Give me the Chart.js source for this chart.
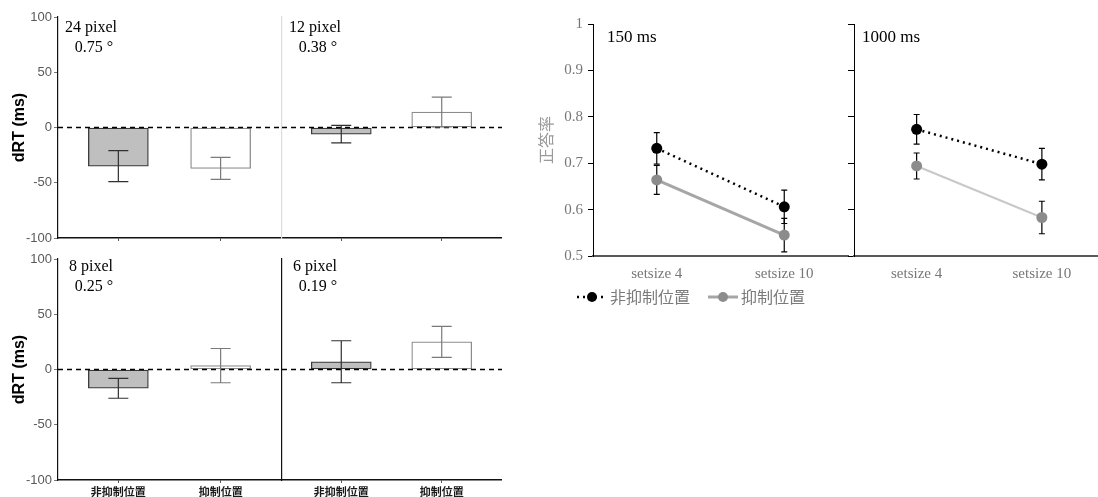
<!DOCTYPE html>
<html><head><meta charset="utf-8">
<script src="https://cdn.jsdelivr.net/npm/chart.js@4.4.1/dist/chart.umd.min.js"></script>
<style>
html,body{margin:0;padding:0;background:#fff;overflow:hidden;width:1098px;height:497px;}
canvas{position:absolute;}
</style></head><body>
<canvas id="p24" width="282" height="248" style="left:0;top:0"></canvas>
<canvas id="p12" width="225" height="245" style="left:277px;top:0"></canvas>
<canvas id="p8" width="282" height="252" style="left:0;top:245px"></canvas>
<canvas id="p6" width="225" height="252" style="left:277px;top:245px"></canvas>
<canvas id="a150" width="340" height="320" style="left:520px;top:0"></canvas>
<canvas id="a1000" width="262" height="320" style="left:848px;top:0"></canvas>
<script>
// ---------- data ----------
const barCategories = ['非抑制位置', '抑制位置'];
const pixelLabels = ['24 pixel', '12 pixel', '8 pixel', '6 pixel'];
const degreeLabels = ['0.75 °', '0.38 °', '0.25 °', '0.19 °'];
const dRTNonSuppressed = [-35, -6, -17, 7];
const dRTNonSuppressedErr = [14, 8, 9, 19];
const dRTSuppressed = [-37, 14, 3.5, 25];
const dRTSuppressedErr = [10, 13.5, 15.5, 14];
const dRTTicks = [-100, -50, 0, 50, 100];

const setsizes = ['setsize 4', 'setsize 10'];
const durations = ['150 ms', '1000 ms'];
const seriesNames = ['非抑制位置', '抑制位置'];
const acc150NonSuppressed = [0.732, 0.606];
const acc150NonSuppressedErr = [0.034, 0.036];
const acc150Suppressed = [0.664, 0.545];
const acc150SuppressedErr = [0.031, 0.036];
const acc1000NonSuppressed = [0.773, 0.698];
const acc1000NonSuppressedErr = [0.032, 0.034];
const acc1000Suppressed = [0.694, 0.583];
const acc1000SuppressedErr = [0.028, 0.035];
const accTicks = [0.5, 0.6, 0.7, 0.8, 0.9, 1];

// ---------- styles ----------
const SANS = "'Liberation Sans', Arial, sans-serif";
const SERIF = "'Liberation Serif', 'Times New Roman', serif";
const CJK = "'Noto Sans CJK JP', 'Noto Sans CJK SC', sans-serif";

const barDecor = {
  id: 'barDecor',
  afterDatasetsDraw(chart, args, o) {
    const {ctx, chartArea: a, scales: {x, y}} = chart;
    ctx.save();
    const y0 = y.getPixelForValue(0);
    ctx.strokeStyle = '#000'; ctx.lineWidth = 1.5; ctx.setLineDash([5, 4]);
    ctx.beginPath(); ctx.moveTo(a.left, y0); ctx.lineTo(a.right, y0); ctx.stroke();
    ctx.setLineDash([]);
    const ds = chart.data.datasets[0];
    ds.data.forEach((pt, i) => {
      const e = ds.errors[i];
      const px = x.getPixelForValue(pt.x);
      const t = y.getPixelForValue(pt.y + e), b = y.getPixelForValue(pt.y - e);
      ctx.strokeStyle = ds.errorColors[i]; ctx.lineWidth = 1.2;
      ctx.beginPath();
      ctx.moveTo(px, t); ctx.lineTo(px, b);
      ctx.moveTo(px - 10, t); ctx.lineTo(px + 10, t);
      ctx.moveTo(px - 10, b); ctx.lineTo(px + 10, b);
      ctx.stroke();
    });
    ctx.fillStyle = '#000'; ctx.font = '16px ' + SERIF;
    ctx.textAlign = 'center'; ctx.textBaseline = 'alphabetic';
    ctx.fillText(o.line1, a.left + 33, a.top + o.dy + 15);
    ctx.fillText(o.line2, a.left + 36, a.top + o.dy + 35);
    ctx.restore();
  }
};

function barPanel(id, k, cfg) {
  new Chart(document.getElementById(id), {
    type: 'bar',
    data: { datasets: [{
      data: [{x: 0, y: dRTNonSuppressed[k]}, {x: 1, y: dRTSuppressed[k]}],
      errors: [dRTNonSuppressedErr[k], dRTSuppressedErr[k]],
      errorColors: ['#303030', '#7a7a7a'],
      backgroundColor: ['#bfbfbf', '#ffffff'],
      borderColor: ['#3a3a3a', '#8c8c8c'],
      borderWidth: 1.3, borderSkipped: false, barThickness: 60
    }]},
    options: {
      responsive: false, animation: false, events: [],
      layout: {padding: {top: cfg.top, right: 0, left: 0, bottom: 0}},
      plugins: {
        legend: {display: false}, tooltip: {enabled: false},
        barDecor: {line1: pixelLabels[k], line2: degreeLabels[k], dy: cfg.dy}
      },
      scales: {
        x: {
          type: 'linear', min: -0.59, max: 1.6, offset: false,
          afterBuildTicks: s => { s.ticks = barCategories.map((c, i) => ({value: i})); },
          afterFit: s => { s.height = cfg.xh; },
          ticks: {display: cfg.showX, callback: v => barCategories[v], padding: 2, maxRotation: 0, autoSkip: false,
                  color: '#1a1a1a', font: {family: CJK, size: 11, weight: 'bold'}},
          grid: {display: true, drawOnChartArea: false, drawTicks: true, tickLength: 3, offset: false, color: '#555'},
          border: {display: true, color: '#111', width: 1.5}
        },
        y: {
          min: -100, max: 100,
          afterBuildTicks: s => { s.ticks = dRTTicks.map(v => ({value: v})); },
          afterFit: s => { s.width = cfg.yw; },
          title: {display: cfg.showY, text: 'dRT (ms)', color: '#000',
                  font: {family: SANS, size: 16, weight: 'bold'}, padding: {top: 10, bottom: 0}},
          ticks: {display: cfg.showY, color: '#595959', padding: 2, font: {family: SANS, size: 13}},
          grid: {display: true, drawOnChartArea: false, drawTicks: cfg.showY, tickLength: 4, color: '#777'},
          border: {display: true, color: cfg.yColor, width: 1.2}
        }
      }
    },
    plugins: [barDecor]
  });
}

barPanel('p24', 0, {top: 17, xh: 10, yw: 58, showY: true, showX: false, yColor: '#111', dy: 0});
barPanel('p12', 1, {top: 17, xh: 7, yw: 5, showY: false, showX: false, yColor: '#dcdcdc', dy: 0});
barPanel('p8', 2, {top: 14, xh: 17, yw: 58, showY: true, showX: true, yColor: '#111', dy: -3});
barPanel('p6', 3, {top: 14, xh: 17, yw: 5, showY: false, showX: true, yColor: '#111', dy: -3});

const lineDecor = {
  id: 'lineDecor',
  beforeDatasetsDraw(chart) {
    const {ctx, scales: {y}} = chart;
    ctx.save();
    ctx.strokeStyle = '#000'; ctx.lineWidth = 1.2;
    chart.data.datasets.forEach((ds, di) => {
      const meta = chart.getDatasetMeta(di);
      ds.data.forEach((v, i) => {
        const px = meta.data[i].x;
        const t = y.getPixelForValue(v + ds.errors[i]), b = y.getPixelForValue(v - ds.errors[i]);
        ctx.beginPath();
        ctx.moveTo(px, t); ctx.lineTo(px, b);
        ctx.moveTo(px - 3, t); ctx.lineTo(px + 3, t);
        ctx.moveTo(px - 3, b); ctx.lineTo(px + 3, b);
        ctx.stroke();
      });
    });
    ctx.restore();
  },
  afterDraw(chart, args, o) {
    const {ctx, chartArea: a} = chart;
    ctx.save();
    ctx.fillStyle = '#000'; ctx.font = '17px ' + SERIF;
    ctx.textAlign = 'left'; ctx.textBaseline = 'alphabetic';
    ctx.fillText(o.title, a.left + o.tx, a.top + 18);
    if (o.legend) {
      let cx = o.lx; const cy = o.ly;
      ctx.font = '16px ' + CJK; ctx.textBaseline = 'middle';
      chart.data.datasets.forEach(ds => {
        ctx.strokeStyle = ds.borderColor; ctx.lineWidth = ds.borderWidth;
        ctx.setLineDash(ds.borderDash || []);
        ctx.beginPath(); ctx.moveTo(cx, cy); ctx.lineTo(cx + 30, cy); ctx.stroke();
        ctx.setLineDash([]);
        ctx.fillStyle = ds.pointBackgroundColor;
        ctx.beginPath(); ctx.arc(cx + 15, cy, 5, 0, Math.PI * 2); ctx.fill();
        ctx.fillStyle = '#7a7a7a';
        ctx.fillText(ds.label, cx + 33, cy);
        cx += 33 + ctx.measureText(ds.label).width + 18;
      });
    }
    ctx.restore();
  }
};

function linePanel(id, k, non, nonErr, sup, supErr, cfg) {
  new Chart(document.getElementById(id), {
    type: 'line',
    data: { labels: setsizes, datasets: [
      {label: seriesNames[0], data: non, errors: nonErr, borderColor: '#000', borderWidth: 2.5, borderDash: [2, 4],
       pointRadius: 5.5, pointBackgroundColor: '#000', pointBorderColor: '#000', pointBorderWidth: 0},
      {label: seriesNames[1], data: sup, errors: supErr, borderColor: cfg.supLine, borderWidth: cfg.supWidth,
       pointRadius: 5.5, pointBackgroundColor: '#8c8c8c', pointBorderColor: '#8c8c8c', pointBorderWidth: 0}
    ]},
    options: {
      responsive: false, animation: false, events: [],
      layout: {padding: {top: 24, right: cfg.right, left: 0, bottom: 0}},
      plugins: {legend: {display: false}, tooltip: {enabled: false},
        lineDecor: {title: durations[k], tx: cfg.tx, legend: cfg.legend, lx: 57, ly: 297}},
      scales: {
        x: {
          type: 'category', offset: true,
          afterFit: s => { s.height = 64; },
          ticks: {color: '#777', padding: 9, font: {family: SERIF, size: 15}},
          grid: {display: false, drawTicks: false},
          border: {display: true, color: '#5a5a5a', width: 2}
        },
        y: {
          min: 0.5, max: 1,
          afterBuildTicks: s => { s.ticks = accTicks.map(v => ({value: v})); },
          afterFit: s => { s.width = cfg.yw; },
          title: {display: cfg.showY, text: '正答率', color: '#9a9a9a', font: {family: CJK, size: 16}, padding: {top: 16, bottom: 0}},
          ticks: {display: cfg.showY, callback: v => String(v), color: '#777', padding: 5, font: {family: SERIF, size: 15}},
          grid: {display: true, drawOnChartArea: false, drawTicks: true, tickLength: cfg.tl, color: '#000'},
          border: {display: true, color: '#000', width: 1}
        }
      }
    },
    plugins: [lineDecor]
  });
}

linePanel('a150', 0, acc150NonSuppressed, acc150NonSuppressedErr, acc150Suppressed, acc150SuppressedErr,
  {right: 12, yw: 73, showY: true, tl: 5, tx: 14, legend: true, supLine: '#a6a6a6', supWidth: 3});
linePanel('a1000', 1, acc1000NonSuppressed, acc1000NonSuppressedErr, acc1000Suppressed, acc1000SuppressedErr,
  {right: 0, yw: 6, showY: false, tl: 6, tx: 8, legend: false, supLine: '#c8c8c8', supWidth: 2});
</script>
</body></html>
